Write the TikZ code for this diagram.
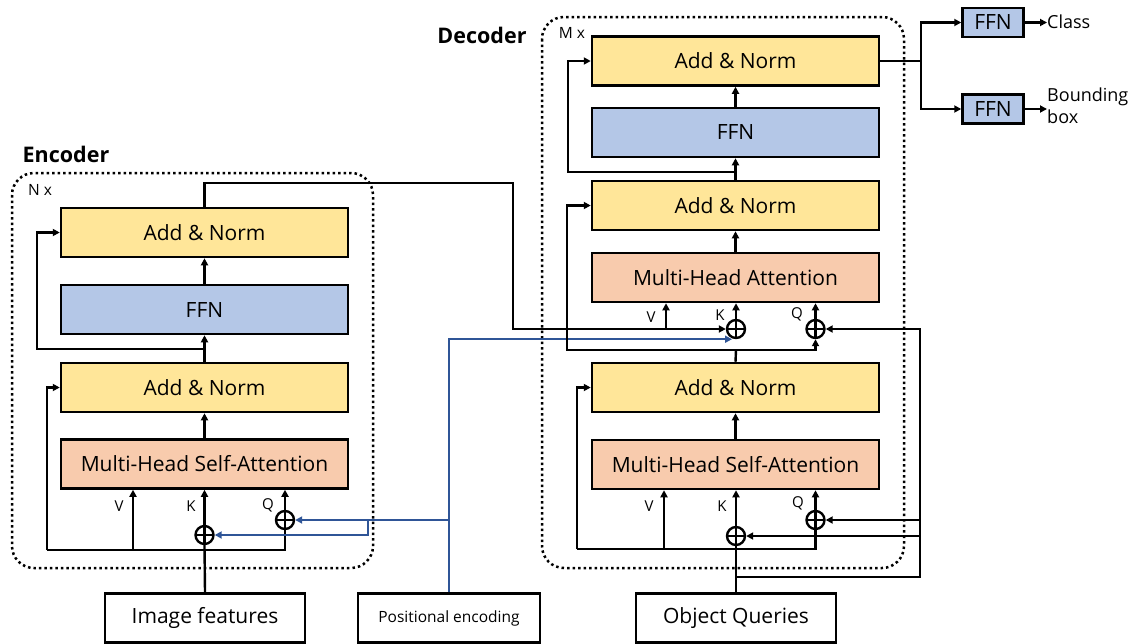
\documentclass[tikz,border=0pt]{standalone}
\usepackage{fontspec}
\setmainfont{Open Sans}
\usetikzlibrary{arrows.meta}

\definecolor{normfill}{RGB}{255,230,153}
\definecolor{ffnfill}{RGB}{180,199,231}
\definecolor{attfill}{RGB}{248,203,173}
\definecolor{posblue}{RGB}{47,85,151}

\tikzset{
  layer/.style={draw, line width=2.5pt, minimum width=287pt, minimum height=49pt,
    inner sep=0pt, font=\fontsize{21}{25}\selectfont},
  normbox/.style={layer, fill=normfill},
  ffnbox/.style={layer, fill=ffnfill},
  attbox/.style={layer, fill=attfill},
  inbox/.style={draw, line width=2.5pt, minimum height=49pt, inner sep=0pt, fill=white},
  headbox/.style={draw, line width=2.5pt, fill=ffnfill, minimum width=61pt,
    minimum height=29pt, inner sep=0pt, font=\fontsize{21}{25}\selectfont},
  addop/.style={circle, draw, line width=2.4pt, minimum size=18pt, inner sep=0pt,
    path picture={\draw[line width=2.2pt]
      (path picture bounding box.north) -- (path picture bounding box.south)
      (path picture bounding box.west) -- (path picture bounding box.east);}},
  wire/.style={line width=2.4pt, line join=miter},
  flow/.style={wire, -{Triangle[length=7pt,width=7pt]}},
  posflow/.style={flow, draw=posblue},
  groupbox/.style={line width=2.5pt, dash pattern=on 2.5pt off 3pt, rounded corners=22pt},
  tag/.style={inner sep=0pt, font=\fontsize{15}{18}\selectfont},
  title/.style={inner sep=0pt, font=\fontsize{21.5}{25}\selectfont\bfseries},
}

\begin{document}
\begin{tikzpicture}[x=1pt, y=-1pt]
\useasboundingbox (0,0) rectangle (1134,643);

% ---------------- group frames and titles ----------------
\draw[groupbox] (12,173) rectangle (373,568);
\draw[groupbox] (542,17) rectangle (904,568);
\node[title] (enctitle) at (66,154) {Encoder};
\node[title] (dectitle) at (482,35) {Decoder};
\node[tag, font=\fontsize{15.5}{18}\selectfont] (nrep) at (40,190) {N x};
\node[tag, font=\fontsize{15.5}{18}\selectfont] (mrep) at (572,33) {M x};

% ---------------- inputs ----------------
\node[inbox, minimum width=200pt, font=\fontsize{21}{25}\selectfont] (imgf) at (205,618) {Image features};
\node[inbox, minimum width=182pt, font=\fontsize{15.5}{18}\selectfont] (pe) at (449,618) {Positional encoding};
\node[inbox, minimum width=200pt, font=\fontsize{21}{25}\selectfont] (oq) at (736,618) {Object Queries};

% ---------------- encoder layers ----------------
\node[normbox] (eAN2) at (204.5,232.5) {Add \& Norm};
\node[ffnbox]  (eFFN) at (204.5,309.5) {FFN};
\node[normbox] (eAN1) at (204.5,387.5) {Add \& Norm};
\node[attbox]  (eMHSA) at (204.5,464) {Multi-Head Self-Attention};
\node[addop] (ekplus) at (204.5,535) {};
\node[addop] (eqplus) at (285,520) {};
\node[tag] (eVl) at (119,506) {V};
\node[tag] (eKl) at (191,506) {K};
\node[tag] (eQl) at (268,505) {Q};

% ---------------- decoder layers ----------------
\node[normbox] (dAN3) at (735.5,61) {Add \& Norm};
\node[ffnbox]  (dFFN) at (735.5,132.5) {FFN};
\node[normbox] (dAN2) at (735.5,205.5) {Add \& Norm};
\node[attbox]  (dMHA) at (735.5,277.5) {Multi-Head Attention};
\node[normbox] (dAN1) at (735.5,387.5) {Add \& Norm};
\node[attbox]  (dMHSA) at (735.5,464.5) {Multi-Head Self-Attention};
\node[addop] (dck) at (736,329) {};
\node[addop] (dcq) at (815.5,329) {};
\node[addop] (dsk) at (736,536) {};
\node[addop] (dsq) at (815.5,520) {};
\node[tag] (dcVl) at (651,317) {V};
\node[tag] (dcKl) at (720,315) {K};
\node[tag] (dcQl) at (797,314) {Q};
\node[tag] (dsVl) at (649,506) {V};
\node[tag] (dsKl) at (722,506) {K};
\node[tag] (dsQl) at (798,503) {Q};

% ---------------- prediction heads ----------------
\node[headbox] (ffnC) at (993,22.5) {FFN};
\node[headbox] (ffnB) at (993,109) {FFN};
\node[inner sep=0pt, anchor=west, font=\fontsize{18}{22}\selectfont] (clsT) at (1047,22) {Class};
\node[inner sep=0pt, anchor=west, align=left, font=\fontsize{18}{22}\selectfont] (bbT) at (1047,106) {Bounding\\box};

% ---------------- helper points ----------------
\coordinate (eL)  at (47,550);
\coordinate (eV)  at (133,550);
\coordinate (eQb) at (285,550);
\coordinate (eJ2) at (204.5,349);
\coordinate (eR2) at (37,349);
\coordinate (mem) at (513,183);
\coordinate (dcV) at (666,329);
\coordinate (peS) at (368,520);
\coordinate (dJ1) at (736,577);
\coordinate (dRt) at (920,577);
\coordinate (dB)  at (577,549);
\coordinate (dBq) at (815.5,549);
\coordinate (dsV) at (664,549);
\coordinate (dJ2) at (736,350);
\coordinate (dR2) at (567,350);
\coordinate (dJ3) at (736,172);
\coordinate (dR3) at (568,172);
\coordinate (oJ)  at (921,61);

% ---------------- encoder wiring ----------------
\draw[wire] (imgf.north) -- (ekplus.south);
\draw[flow] (ekplus.north) -- (eMHSA.south);
\draw[wire] (eL) -- (eQb) -- (eqplus.south);
\draw[flow] (eqplus.north) -- (eqplus |- eMHSA.south);
\draw[flow] (eV) -- (eV |- eMHSA.south);
\draw[flow] (eL) |- (eAN1.west);
\draw[flow] (eMHSA.north) -- (eAN1.south);
\draw[flow] (eAN1.north) -- (eFFN.south);
\draw[flow] (eJ2) -- (eR2) |- (eAN2.west);
\draw[flow] (eFFN.north) -- (eAN2.south);

% encoder memory into the cross attention
\draw[flow] (eAN2.north) |- (mem) |- (dck.west);
\draw[flow] (dcV) -- (dcV |- dMHA.south);

% ---------------- positional encoding ----------------
\draw[posflow] (pe.north) |- ([xshift=-4pt]dck.south);
\draw[posflow] (pe.north |- eqplus) -- (eqplus.east);
\draw[posflow] (peS) |- (ekplus.east);

% ---------------- decoder wiring ----------------
\draw[wire] (oq.north) -- (dsk.south);
\draw[flow] (dJ1) -- (dRt) |- (dcq.east);
\draw[flow] (dRt |- dsk) -- (dsk.east);
\draw[flow] (dRt |- dsq) -- (dsq.east);
\draw[wire] (dB) -- (dBq) -- (dsq.south);
\draw[flow] (dsV) -- (dsV |- dMHSA.south);
\draw[flow] (dB) |- (dAN1.west);
\draw[flow] (dsk.north) -- (dsk |- dMHSA.south);
\draw[flow] (dsq.north) -- (dsq |- dMHSA.south);
\draw[flow] (dMHSA.north) -- (dAN1.south);
\draw[wire] (dAN1.north) -- (dJ2);
\draw[flow] (dJ2) -- (dR2) |- (dAN2.west);
\draw[flow] (dJ2) -| (dcq.south);
\draw[flow] (dck.north) -- (dck |- dMHA.south);
\draw[flow] (dcq.north) -- (dcq |- dMHA.south);
\draw[flow] (dMHA.north) -- (dAN2.south);
\draw[flow] (dAN2.north) -- (dFFN.south);
\draw[flow] (dJ3) -- (dR3) |- (dAN3.west);
\draw[flow] (dFFN.north) -- (dAN3.south);

% ---------------- output heads ----------------
\draw[wire] (dAN3.east) -- (oJ);
\draw[flow] (oJ) |- (ffnC.west);
\draw[flow] (oJ) |- (ffnB.west);
\draw[flow] (ffnC.east) -- (ffnC.east -| clsT.west);
\draw[flow] (ffnB.east) -- (ffnB.east -| bbT.west);
\end{tikzpicture}
\end{document}
